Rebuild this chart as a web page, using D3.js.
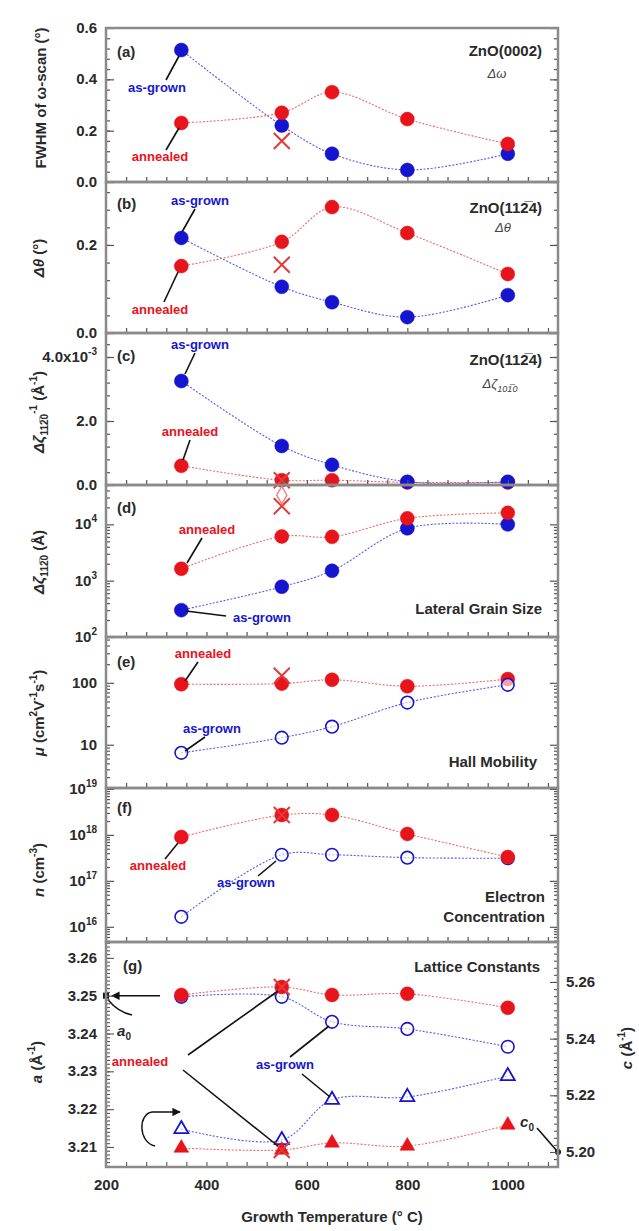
<!DOCTYPE html>
<html><head><meta charset="utf-8">
<script src="https://cdn.jsdelivr.net/npm/d3@7"></script>
<style>
body{margin:0;background:#fff;}
text{font-family:"Liberation Sans",Arial,sans-serif;}
</style></head>
<body><svg id="c" width="639" height="1231"></svg>
<script>
// ---------- data ----------
const temps = [350, 550, 650, 800, 1000];
const xTicks = [200, 400, 600, 800, 1000];
const crossTemp = 550;

const fwhmGrown    = [0.514, 0.22, 0.11, 0.047, 0.11];
const fwhmAnnealed = [0.23, 0.27, 0.35, 0.245, 0.148];
const fwhmCross    = 0.16;

const thetaGrown    = [0.216, 0.105, 0.07, 0.036, 0.086];
const thetaAnnealed = [0.152, 0.207, 0.286, 0.227, 0.134];
const thetaCross    = 0.155;

const zetaInvGrown    = [3.25e-3, 1.22e-3, 0.63e-3, 0.10e-3, 0.10e-3];
const zetaInvAnnealed = [0.60e-3, 0.15e-3, 0.15e-3, 0.08e-3, 0.08e-3];
const zetaInvCross    = 0.15e-3;

const sizeGrown    = [300, 780, 1500, 8500, 10000];
const sizeAnnealed = [1630, 6100, 6000, 12800, 16000];
const sizeCross    = 21000;

const mobGrown    = [7.4, 13, 19.6, 48, 93];
const mobAnnealed = [95, 97, 112, 88, 115];
const mobCross    = 130;

const nGrown    = [1.65e16, 3.7e17, 3.7e17, 3.2e17, 3.1e17];
const nAnnealed = [9e17, 2.7e18, 2.7e18, 1.05e18, 3.3e17];
const nCross    = 2.7e18;

const aAnnealed = [3.2502, 3.2523, 3.2502, 3.2505, 3.2468];
const aGrown    = [3.2497, 3.2497, 3.2431, 3.2412, 3.2365];
const cGrown    = [5.2081, 5.2042, 5.2184, 5.2194, 5.2268];
const cAnnealed = [5.2014, 5.2007, 5.2032, 5.2021, 5.2095];
const aCross = 3.2523, cCross = 5.2007;

const aTicks = [3.21, 3.22, 3.23, 3.24, 3.25, 3.26];
const cTicks = [5.20, 5.22, 5.24, 5.26];

// ---------- setup ----------
const RED = "#e8141b", BLUE = "#1515d0";
const LRED = "#f06a6a", LBLUE = "#5a5ae6";
const svg = d3.select("#c");
const X0 = 106, X1 = 558;
const x = d3.scaleLinear().domain([200, 1100]).range([X0, X1]);
const line = (ys) => d3.line().x(d => x(d[0])).y(d => ys(d[1])).curve(d3.curveCatmullRom.alpha(0.5));
const zip = (a) => temps.map((t, i) => [t, a[i]]);

function frameAndTicks(y, top, bot, majors, minors) {
  const g = svg.append("g");
  g.append("g").attr("transform", `translate(0,${bot})`)
    .call(d3.axisBottom(x).tickValues(d3.range(200, 1101, 40)).tickSize(-5).tickFormat(""));
  g.append("g").attr("transform", `translate(${X0},0)`)
    .call(d3.axisLeft(y).tickValues(majors).tickSize(-8).tickFormat(""));
  g.append("g").attr("transform", `translate(${X0},0)`)
    .call(d3.axisLeft(y).tickValues(minors).tickSize(-4).tickFormat(""));
  g.append("g").attr("transform", `translate(${X1},0)`)
    .call(d3.axisRight(y).tickValues(majors).tickSize(-8).tickFormat(""));
  g.append("g").attr("transform", `translate(${X1},0)`)
    .call(d3.axisRight(y).tickValues(minors).tickSize(-4).tickFormat(""));
  g.selectAll(".domain").remove();
  g.selectAll(".tick line").attr("stroke", "#555").attr("stroke-width", 1.2);
  svg.append("rect").attr("x", X0).attr("y", top).attr("width", X1 - X0).attr("height", bot - top)
    .attr("fill", "none").attr("stroke", "#8a8a8a").attr("stroke-width", 2.5);
}

const layer = { lines: svg.append("g"), marks: svg.append("g"), text: svg.append("g") };

function series(y, vals, color, lcolor, kind, open) {
  layer.lines.append("path").datum(zip(vals)).attr("d", line(y))
    .attr("fill", "none").attr("stroke", lcolor).attr("stroke-width", 1.1).attr("stroke-dasharray", "2,1.6");
  const g = layer.marks.append("g");
  zip(vals).forEach(d => {
    const cx = x(d[0]), cy = y(d[1]);
    if (kind === "circle") {
      g.append("circle").attr("cx", cx).attr("cy", cy).attr("r", open ? 6.3 : 7)
        .attr("fill", open ? "#fff" : color).attr("fill-opacity", open ? 0.6 : 1)
        .attr("stroke", color).attr("stroke-width", open ? 1.6 : 0.5);
    } else {
      g.append("path").attr("transform", `translate(${cx},${cy})`)
        .attr("d", d3.symbol(d3.symbolTriangle, open ? 85 : 95)())
        .attr("fill", open ? "#fff" : color).attr("fill-opacity", open ? 0.6 : 1)
        .attr("stroke", color).attr("stroke-width", open ? 1.8 : 0.5);
    }
  });
}
function cross(y, v) {
  const cx = x(crossTemp), cy = y(v), s = 8;
  layer.marks.append("path").attr("d", `M${cx - s},${cy - s}L${cx + s},${cy + s}M${cx - s},${cy + s}L${cx + s},${cy - s}`)
    .attr("stroke", "#e03a3a").attr("stroke-width", 2).attr("fill", "none");
}
function label(t, px, py, color, opts = {}) {
  const el = layer.text.append("text").attr("x", px).attr("y", py).attr("fill", color)
    .attr("font-size", opts.size || 13).attr("font-weight", opts.weight || "bold")
    .attr("text-anchor", opts.anchor || "middle");
  if (opts.italic) el.attr("font-style", "italic");
  el.text(t);
  return el;
}
function leader(x1, y1, x2, y2) {
  layer.text.append("line").attr("x1", x1).attr("y1", y1).attr("x2", x2).attr("y2", y2)
    .attr("stroke", "#111").attr("stroke-width", 1.6);
}
function yLabel(t, py, opts = {}) {
  const el = svg.append("text").attr("x", 97).attr("y", py + 5).attr("text-anchor", "end")
    .attr("font-size", 15).attr("font-weight", "bold").attr("fill", "#2a2a2a");
  el.append("tspan").text(t);
  if (opts.sup) el.append("tspan").attr("font-size", 10).attr("dy", -7).text(opts.sup);
}
function yTitle(cx, cy, parts, rot = -90) {
  const el = svg.append("text").attr("transform", `translate(${cx},${cy}) rotate(${rot})`)
    .attr("text-anchor", "middle").attr("font-size", 15).attr("font-weight", "bold").attr("fill", "#2a2a2a");
  parts.forEach(p => {
    const ts = el.append("tspan").text(p.t);
    if (p.italic) ts.attr("font-style", "italic");
    if (p.sup) ts.attr("font-size", 10).attr("dy", -7);
    if (p.sub) ts.attr("font-size", 10).attr("dy", 4);
    if (p.back) ts.attr("dy", p.back);
  });
}
function panelTag(t, px, py) { label(t, px, py, "#2a2a2a", { size: 15, anchor: "start" }); }

// ---------- panel (a) ----------
const ya = d3.scaleLinear().domain([0, 0.6]).range([182, 28]);
frameAndTicks(ya, 28, 182, [0, 0.2, 0.4, 0.6], d3.range(0, 0.601, 0.04));
[0, 0.2, 0.4, 0.6].forEach(v => yLabel(v.toFixed(1), ya(v)));
series(ya, fwhmGrown, BLUE, LBLUE, "circle", false);
series(ya, fwhmAnnealed, RED, LRED, "circle", false);
cross(ya, fwhmCross);
panelTag("(a)", 117, 57);
label("ZnO(0002)", 542, 56, "#2a2a2a", { size: 15, anchor: "end" });
label("Δω", 497, 78, "#444", { size: 13, italic: true, weight: "normal" });
label("as-grown", 157, 92, BLUE); leader(166, 80, 179, 56);
label("annealed", 160, 161, RED); leader(166, 150, 179, 128);
yTitle(46, 98, [{ t: "FWHM of ω-scan (°)" }]);

// ---------- panel (b) ----------
const yb = d3.scaleLinear().domain([0, 0.343]).range([333, 182]);
frameAndTicks(yb, 182, 333, [0, 0.2], d3.range(0, 0.343, 0.04));
[0, 0.2].forEach(v => yLabel(v.toFixed(1), yb(v)));
series(yb, thetaGrown, BLUE, LBLUE, "circle", false);
series(yb, thetaAnnealed, RED, LRED, "circle", false);
cross(yb, thetaCross);
panelTag("(b)", 117, 209);
label("ZnO(112\u03054)", 542, 213, "#2a2a2a", { size: 15, anchor: "end" });
label("Δθ", 503, 232, "#444", { size: 13, italic: true, weight: "normal" });
label("as-grown", 200, 205, BLUE); leader(195, 209, 182, 232);
label("annealed", 160, 314, RED); leader(164, 302, 178, 272);
yTitle(44, 258, [{ t: "Δθ", italic: true }, { t: " (°)" }]);

// ---------- panel (c) ----------
const yc = d3.scaleLinear().domain([0, 4.75e-3]).range([485, 333]);
frameAndTicks(yc, 333, 485, [0, 2e-3, 4e-3], d3.range(0, 4.75e-3, 0.4e-3));
yLabel("0.0", yc(0)); yLabel("2.0", yc(2e-3)); yLabel("4.0x10", yc(4e-3), { sup: "-3" });
series(yc, zetaInvAnnealed, RED, LRED, "circle", false);
series(yc, zetaInvGrown, BLUE, LBLUE, "circle", false);
cross(yc, zetaInvCross);
panelTag("(c)", 117, 361);
label("ZnO(112\u03054)", 542, 365, "#2a2a2a", { size: 15, anchor: "end" });
const tc = label("", 500, 388, "#444", { size: 13, italic: true, weight: "normal" });
tc.append("tspan").text("Δζ"); tc.append("tspan").attr("font-size", 9).attr("dy", 4).text("101\u03050");
label("as-grown", 200, 349, BLUE); leader(195, 353, 185, 374);
label("annealed", 190, 436, RED); leader(190, 440, 183, 460);
yTitle(44, 412, [{ t: "Δζ", italic: true }, { t: "112\u03050", sub: true }, { t: "-1", sup: true, back: -11 }, { t: " (Å", back: 7 }, { t: "-1", sup: true }, { t: ")", back: 7 }]);

// ---------- panel (d) ----------
const yd = d3.scaleLog().domain([100, 5e4]).range([637, 485]);
const dMinor = [200,300,400,500,600,700,800,900,2000,3000,4000,5000,6000,7000,8000,9000,20000,30000,40000];
frameAndTicks(yd, 485, 637, [100, 1000, 10000], dMinor);
[[100, "2"], [1000, "3"], [10000, "4"]].forEach(([v, e]) => yLabel("10", yd(v), { sup: e }));
series(yd, sizeGrown, BLUE, LBLUE, "circle", false);
series(yd, sizeAnnealed, RED, LRED, "circle", false);
cross(yd, sizeCross);
layer.marks.append("path").attr("transform", `translate(${x(550)},${yd(3.3e4)})`)
  .attr("d", d3.symbol(d3.symbolDiamond, 90)()).attr("fill", "none").attr("stroke", "#f08a8a").attr("stroke-width", 1.5);
panelTag("(d)", 117, 513);
label("Lateral Grain Size", 542, 614, "#2a2a2a", { size: 15, anchor: "end" });
label("annealed", 207, 534, RED); leader(202, 538, 187, 563);
label("as-grown", 262, 622, BLUE); leader(186, 611, 226, 616);
yTitle(44, 562, [{ t: "Δζ", italic: true }, { t: "112\u03050", sub: true }, { t: " (Å)", back: -4 }]);

// ---------- panel (e) ----------
const ye = d3.scaleLog().domain([2, 550]).range([788, 637]);
const eMinor = [3,4,5,6,7,8,9,20,30,40,50,60,70,80,90,200,300,400,500];
frameAndTicks(ye, 637, 788, [10, 100], eMinor);
yLabel("100", ye(100)); yLabel("10", ye(10));
series(ye, mobAnnealed, RED, LRED, "circle", false);
series(ye, mobGrown, BLUE, LBLUE, "circle", true);
cross(ye, mobCross);
panelTag("(e)", 117, 667);
label("Hall Mobility", 537, 767, "#2a2a2a", { size: 15, anchor: "end" });
label("annealed", 203, 658, RED); leader(198, 662, 185, 681);
label("as-grown", 212, 733, BLUE); leader(205, 737, 185, 751);
yTitle(44, 713, [{ t: "μ", italic: true }, { t: " (cm" }, { t: "2", sup: true }, { t: "V", back: 7 }, { t: "-1", sup: true }, { t: "s", back: 7 }, { t: "-1", sup: true }, { t: ")", back: 7 }]);

// ---------- panel (f) ----------
const yf = d3.scaleLog().domain([Math.pow(10, 15.67), Math.pow(10, 19.02)]).range([942, 788]);
const fMinor = [];
[1e15, 1e16, 1e17, 1e18].forEach(b => [2,3,4,5,6,7,8,9].forEach(k => { if (b * k > Math.pow(10, 15.67)) fMinor.push(b * k); }));
frameAndTicks(yf, 788, 942, [1e16, 1e17, 1e18, 1e19], fMinor);
[[1e16, "16"], [1e17, "17"], [1e18, "18"], [1e19, "19"]].forEach(([v, e]) => yLabel("10", yf(v), { sup: e }));
series(yf, nGrown, BLUE, LBLUE, "circle", true);
series(yf, nAnnealed, RED, LRED, "circle", false);
cross(yf, nCross);
panelTag("(f)", 117, 813);
label("Electron", 545, 902, "#2a2a2a", { size: 15, anchor: "end" });
label("Concentration", 545, 922, "#2a2a2a", { size: 15, anchor: "end" });
label("annealed", 158, 870, RED); leader(165, 859, 178, 843);
label("as-grown", 246, 887, BLUE); leader(258, 876, 276, 861);
yTitle(44, 870, [{ t: "n", italic: true }, { t: " (cm" }, { t: "-3", sup: true }, { t: ")", back: 7 }]);

// ---------- panel (g) ----------
const yga = d3.scaleLinear().domain([3.2047, 3.2642]).range([1167, 942]);
const ygc = d3.scaleLinear().domain([5.1947, 5.2741]).range([1167, 942]);
{
  const g = svg.append("g");
  g.append("g").attr("transform", `translate(0,1167)`)
    .call(d3.axisBottom(x).tickValues(d3.range(200, 1101, 40)).tickSize(-5).tickFormat(""));
  g.append("g").attr("transform", `translate(0,1167)`)
    .call(d3.axisBottom(x).tickValues(xTicks).tickSize(0).tickPadding(12).tickFormat(d3.format("d")));
  g.append("g").attr("transform", `translate(${X0},0)`)
    .call(d3.axisLeft(yga).tickValues(aTicks).tickSize(-8).tickFormat(""));
  g.append("g").attr("transform", `translate(${X0},0)`)
    .call(d3.axisLeft(yga).tickValues(d3.range(3.205, 3.2642, 0.001)).tickSize(-4).tickFormat(""));
  g.append("g").attr("transform", `translate(${X1},0)`)
    .call(d3.axisRight(ygc).tickValues(cTicks).tickSize(-8).tickFormat(""));
  g.append("g").attr("transform", `translate(${X1},0)`)
    .call(d3.axisRight(ygc).tickValues(d3.range(5.195, 5.274, 0.0025)).tickSize(-4).tickFormat(""));
  g.selectAll(".domain").remove();
  g.selectAll(".tick line").attr("stroke", "#555").attr("stroke-width", 1.1);
  g.selectAll(".tick text").attr("font-size", 15).attr("font-weight", "bold").attr("fill", "#2a2a2a")
    .attr("font-family", "Liberation Sans, Arial, sans-serif");
  svg.append("rect").attr("x", X0).attr("y", 942).attr("width", X1 - X0).attr("height", 1167 - 942)
    .attr("fill", "none").attr("stroke", "#8a8a8a").attr("stroke-width", 2.5);
}
aTicks.forEach(v => yLabel(v.toFixed(2), yga(v)));
cTicks.forEach(v => svg.append("text").attr("x", 566).attr("y", ygc(v) + 5).attr("font-size", 15)
  .attr("font-weight", "bold").attr("fill", "#2a2a2a").text(v.toFixed(2)));
series(yga, aGrown, BLUE, LBLUE, "circle", true);
series(ygc, cGrown, BLUE, LBLUE, "tri", true);
series(yga, aAnnealed, RED, LRED, "circle", false);
series(ygc, cAnnealed, RED, LRED, "tri", false);
cross(yga, aCross); cross(ygc, cCross);
panelTag("(g)", 123, 971);
label("Lattice Constants", 540, 972, "#2a2a2a", { size: 15, anchor: "end" });
label("annealed", 140, 1066, RED);
leader(188, 1055, 278, 991); leader(183, 1070, 278, 1146);
label("as-grown", 285, 1069, BLUE);
leader(290, 1057, 329, 1026); leader(302, 1074, 330, 1097);
svg.append("defs").append("marker").attr("id", "ah").attr("viewBox", "0 0 10 10").attr("refX", 9).attr("refY", 5)
  .attr("markerWidth", 6).attr("markerHeight", 6).attr("orient", "auto")
  .append("path").attr("d", "M0,0L10,5L0,10z").attr("fill", "#111");
layer.text.append("rect").attr("x", 103).attr("y", yga(3.25) - 3).attr("width", 6).attr("height", 6).attr("fill", "#111");
layer.text.append("line").attr("x1", 160).attr("y1", yga(3.25)).attr("x2", 112).attr("y2", yga(3.25))
  .attr("stroke", "#111").attr("stroke-width", 1.4).attr("marker-end", "url(#ah)");
layer.text.append("path").attr("d", `M108,${yga(3.25) + 4} Q118,1012 132,1015`).attr("fill", "none")
  .attr("stroke", "#111").attr("stroke-width", 1.4);
const a0 = label("a", 124, 1036, "#2a2a2a", { size: 15, italic: true, weight: "bold" });
a0.append("tspan").attr("font-size", 10).attr("dy", 4).attr("font-style", "normal").text("0");
layer.text.append("circle").attr("cx", X1).attr("cy", ygc(5.2)).attr("r", 3).attr("fill", "#111");
leader(537, 1128, 557, ygc(5.2) - 1);
const c0 = label("c", 527, 1127, "#2a2a2a", { size: 15, italic: true, weight: "bold" });
c0.append("tspan").attr("font-size", 10).attr("dy", 4).attr("font-style", "normal").text("0");
layer.text.append("path").attr("d", "M155,1146 C138,1142 138,1114 152,1112 L180,1112").attr("fill", "none")
  .attr("stroke", "#111").attr("stroke-width", 1.4).attr("marker-end", "url(#ah)");
yTitle(42, 1062, [{ t: "a", italic: true }, { t: " (Å" }, { t: "-1", sup: true }, { t: ")", back: 7 }]);
yTitle(632, 1048, [{ t: "c", italic: true }, { t: " (Å" }, { t: "-1", sup: true }, { t: ")", back: 7 }]);

svg.append("text").attr("x", 332).attr("y", 1222).attr("text-anchor", "middle").attr("font-size", 15)
  .attr("font-weight", "bold").attr("fill", "#2a2a2a").text("Growth Temperature (° C)");
</script></body></html>
